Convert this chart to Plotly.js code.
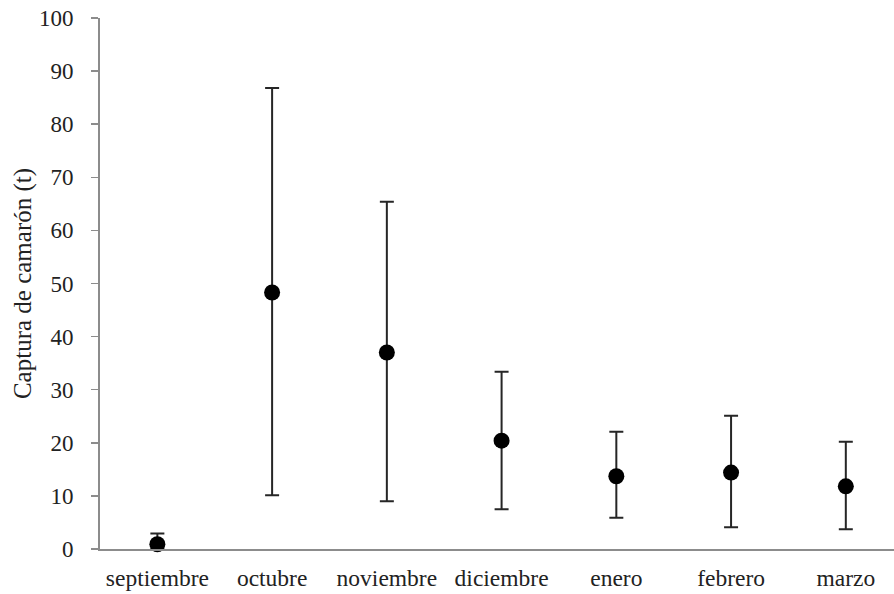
<!DOCTYPE html>
<html>
<head>
<meta charset="utf-8">
<script src="https://cdn.plot.ly/plotly-3.0.1.min.js"></script>
<style>html,body{margin:0;padding:0;background:#fff;}#chart{width:894px;height:594px;}</style>
</head>
<body>
<div id="chart"></div>
<script>
var months = ["septiembre", "octubre", "noviembre", "diciembre", "enero", "febrero", "marzo"];
var meanCatch = [0.9, 48.3, 37.0, 20.4, 13.7, 14.4, 11.8];
var upperCatch = [2.9, 86.8, 65.4, 33.4, 22.1, 25.1, 20.2];
var lowerCatch = [0.0, 10.1, 9.0, 7.5, 5.9, 4.1, 3.7];
var yTicks = [0, 10, 20, 30, 40, 50, 60, 70, 80, 90, 100];

var errPlus = upperCatch.map(function (u, i) { return u - meanCatch[i]; });
var errMinus = lowerCatch.map(function (l, i) { return meanCatch[i] - l; });

var serif = "Liberation Serif";

var trace = {
  x: months,
  y: meanCatch,
  type: "scatter",
  mode: "markers",
  marker: { color: "#000", size: 16 },
  error_y: {
    type: "data",
    symmetric: false,
    array: errPlus,
    arrayminus: errMinus,
    color: "#262626",
    thickness: 2,
    width: 7
  },
  cliponaxis: false,
  hoverinfo: "none"
};

var layout = {
  width: 894,
  height: 594,
  margin: { l: 100, r: 0, t: 18, b: 45 },
  paper_bgcolor: "#fff",
  plot_bgcolor: "#fff",
  showlegend: false,
  font: { family: serif, color: "#222", size: 22 },
  xaxis: {
    type: "category",
    range: [-0.5, 6.42],
    showgrid: false,
    zeroline: false,
    showline: true,
    linecolor: "#8c8c8c",
    linewidth: 2,
    ticks: "",
    ticklabelstandoff: 7,
    tickfont: { family: serif, size: 23.5, color: "#222" },
    automargin: false,
    fixedrange: true
  },
  yaxis: {
    range: [0, 100],
    tickvals: yTicks,
    ticktext: yTicks.map(String),
    showgrid: false,
    zeroline: false,
    showline: true,
    linecolor: "#8c8c8c",
    linewidth: 2,
    ticks: "outside",
    ticklen: 7,
    tickwidth: 1.5,
    tickcolor: "#8c8c8c",
    ticklabelstandoff: 13,
    tickfont: { family: serif, size: 23, color: "#222" },
    title: { text: "Captura de camarón (t)", font: { family: serif, size: 25, color: "#222" }, standoff: 0 },
    automargin: false,
    fixedrange: true
  }
};

Plotly.newPlot("chart", [trace], layout, { displayModeBar: false, staticPlot: true });
</script>
</body>
</html>
